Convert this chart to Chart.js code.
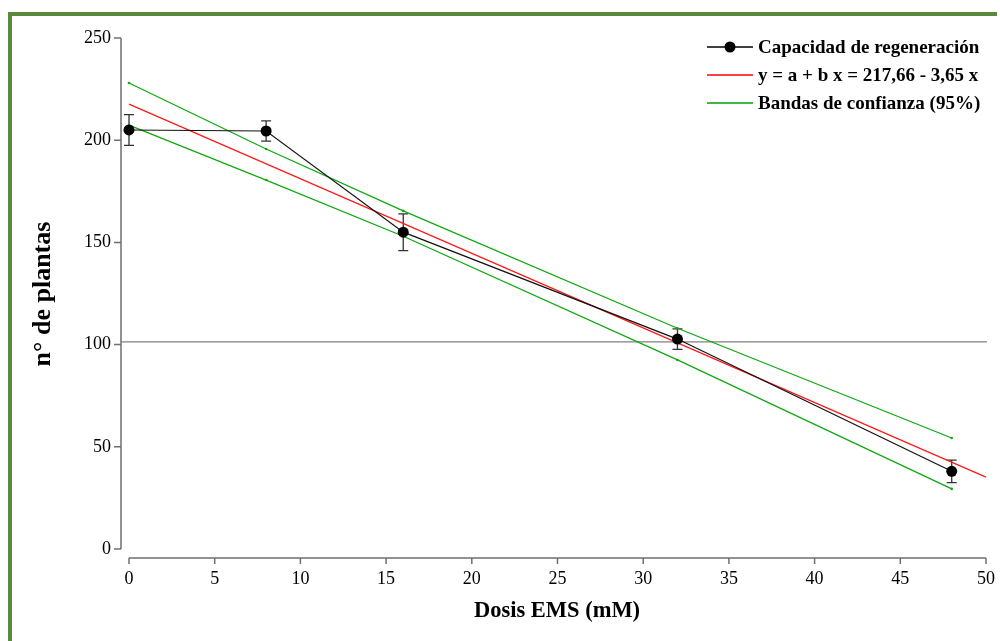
<!DOCTYPE html>
<html><head><meta charset="utf-8">
<script src="https://cdn.jsdelivr.net/npm/chart.js@4/dist/chart.umd.min.js"></script>
<style>html,body{margin:0;padding:0;background:#fff}#wrap{width:1000px;height:641px;position:relative}canvas{display:block}</style>
</head><body><div id="wrap"><canvas id="c" width="1000" height="641"></canvas></div>
<script>
const dosis = [0, 8, 16, 32, 48];
const plantas = [205, 204.5, 155, 102.7, 38];
const errores = [7.5, 5, 9, 5, 5.5];
const regX = [0, 50];
const regY = [217.66, 35.16];
const bandaSup = [228, 195.7, 165.4, 108, 54.3];
const bandaInf = [207.4, 180.5, 153, 92.5, 29.4];
const refY = 101.3;
const xTicks = [0, 5, 10, 15, 20, 25, 30, 35, 40, 45, 50];
const yTicks = [0, 50, 100, 150, 200, 250];
const legendLabels = ['Capacidad de regeneración', 'y = a + b x = 217,66 - 3,65 x', 'Bandas de confianza (95%)'];
const xTitle = 'Dosis EMS (mM)';
const yTitle = 'n° de plantas';

const SERIF = '"Liberation Serif", "Times New Roman", serif';
const pts = (xs, ys) => xs.map((x, i) => ({x: x, y: ys[i]}));

const decor = {
  id: 'decor',
  beforeDraw(chart) {
    const ctx = chart.ctx;
    ctx.save();
    ctx.fillStyle = '#fff';
    ctx.fillRect(0, 0, chart.width, chart.height);
    ctx.fillStyle = '#5b8a3c';
    ctx.fillRect(8, 12, 989, 4);
    ctx.fillRect(8, 12, 4, 629);
    const xs = chart.scales.x, ys = chart.scales.y;
    const ax = chart.chartArea.left - 8, ay = chart.chartArea.bottom + 9;
    ctx.strokeStyle = '#6f6f6f';
    ctx.lineWidth = 1.5;
    ctx.beginPath();
    ctx.moveTo(ax, ys.getPixelForValue(250)); ctx.lineTo(ax, ys.getPixelForValue(0));
    yTicks.forEach(v => { const p = ys.getPixelForValue(v); ctx.moveTo(ax - 7, p); ctx.lineTo(ax, p); });
    ctx.moveTo(xs.getPixelForValue(0), ay); ctx.lineTo(xs.getPixelForValue(50), ay);
    xTicks.forEach(v => { const p = xs.getPixelForValue(v); ctx.moveTo(p, ay); ctx.lineTo(p, ay + 6); });
    ctx.stroke();
    // reference line
    ctx.strokeStyle = '#808080';
    ctx.lineWidth = 1.2;
    ctx.beginPath();
    const ry = ys.getPixelForValue(refY);
    ctx.moveTo(ax, ry); ctx.lineTo(xs.getPixelForValue(50) + 1, ry);
    ctx.stroke();
    // titles
    ctx.fillStyle = '#000';
    ctx.textAlign = 'center';
    ctx.textBaseline = 'middle';
    ctx.font = 'bold 22.5px ' + SERIF;
    ctx.fillText(xTitle, 557, 611);
    ctx.translate(43, 294);
    ctx.rotate(-Math.PI / 2);
    ctx.font = 'bold 26px ' + SERIF;
    ctx.fillText(yTitle, 0, 0);
    ctx.restore();
  },
  beforeDatasetsDraw(chart) {
    const ctx = chart.ctx;
    const xs = chart.scales.x, ys = chart.scales.y;
    ctx.save();
    ctx.strokeStyle = '#333';
    ctx.lineWidth = 1.3;
    ctx.beginPath();
    dosis.forEach((d, i) => {
      const px = xs.getPixelForValue(d);
      const t = ys.getPixelForValue(plantas[i] + errores[i]);
      const b = ys.getPixelForValue(plantas[i] - errores[i]);
      ctx.moveTo(px, t); ctx.lineTo(px, b);
      ctx.moveTo(px - 5, t); ctx.lineTo(px + 5, t);
      ctx.moveTo(px - 5, b); ctx.lineTo(px + 5, b);
    });
    ctx.stroke();
    ctx.restore();
  },
  afterDraw(chart) {
    const ctx = chart.ctx;
    ctx.save();
    const colors = ['#000', '#ff0000', '#00a000'];
    const rows = [47, 75, 103];
    ctx.font = 'bold 19px ' + SERIF;
    ctx.textBaseline = 'middle';
    ctx.textAlign = 'left';
    legendLabels.forEach((t, i) => {
      ctx.strokeStyle = colors[i];
      ctx.lineWidth = 1.3;
      ctx.beginPath();
      ctx.moveTo(707, rows[i]); ctx.lineTo(753, rows[i]);
      ctx.stroke();
      if (i === 0) {
        ctx.fillStyle = '#000';
        ctx.beginPath(); ctx.arc(730, rows[i], 5.5, 0, Math.PI * 2); ctx.fill();
      }
      ctx.fillStyle = '#000';
      ctx.fillText(t, 758, rows[i] + 1);
    });
    ctx.restore();
  }
};

new Chart(document.getElementById('c'), {
  type: 'scatter',
  data: {
    datasets: [
      {label: legendLabels[0], data: pts(dosis, plantas), showLine: true, clip: false, borderColor: '#111', borderWidth: 1.2, pointRadius: 5.5, pointBackgroundColor: '#000', pointBorderColor: '#000', pointBorderWidth: 0},
      {label: legendLabels[1], data: pts(regX, regY), showLine: true, clip: false, borderColor: '#ff1a1a', borderWidth: 1.3, pointRadius: 0},
      {label: legendLabels[2], data: pts(dosis, bandaSup), showLine: true, clip: false, borderColor: '#10a810', borderWidth: 1.3, pointRadius: 1.3, pointBackgroundColor: '#10a810', pointBorderWidth: 0},
      {label: legendLabels[2], data: pts(dosis, bandaInf), showLine: true, clip: false, borderColor: '#10a810', borderWidth: 1.3, pointRadius: 1.3, pointBackgroundColor: '#10a810', pointBorderWidth: 0}
    ]
  },
  options: {
    responsive: false,
    animation: false,
    devicePixelRatio: 1,
    layout: {padding: {left: 0, top: 38, right: 14, bottom: 0}},
    plugins: {legend: {display: false}, tooltip: {enabled: false}},
    scales: {
      x: {
        type: 'linear', min: 0, max: 50,
        afterFit(s) { s.height = 92; s.paddingLeft = 0; s.paddingRight = 0; },
        afterBuildTicks(s) { s.ticks = xTicks.map(v => ({value: v})); },
        grid: {display: true, drawOnChartArea: false, drawTicks: false, color: 'rgba(0,0,0,0)'},
        border: {display: false},
        ticks: {padding: 19, color: '#000', font: {family: SERIF, size: 18}, maxRotation: 0, autoSkip: false}
      },
      y: {
        type: 'linear', min: 0, max: 250,
        afterFit(s) { s.width = 129; s.paddingTop = 0; s.paddingBottom = 0; },
        afterBuildTicks(s) { s.ticks = yTicks.map(v => ({value: v})); },
        grid: {display: true, drawOnChartArea: false, drawTicks: false, color: 'rgba(0,0,0,0)'},
        border: {display: false},
        ticks: {padding: 18, color: '#000', font: {family: SERIF, size: 18}, autoSkip: false}
      }
    }
  },
  plugins: [decor]
});
</script>
</body></html>
